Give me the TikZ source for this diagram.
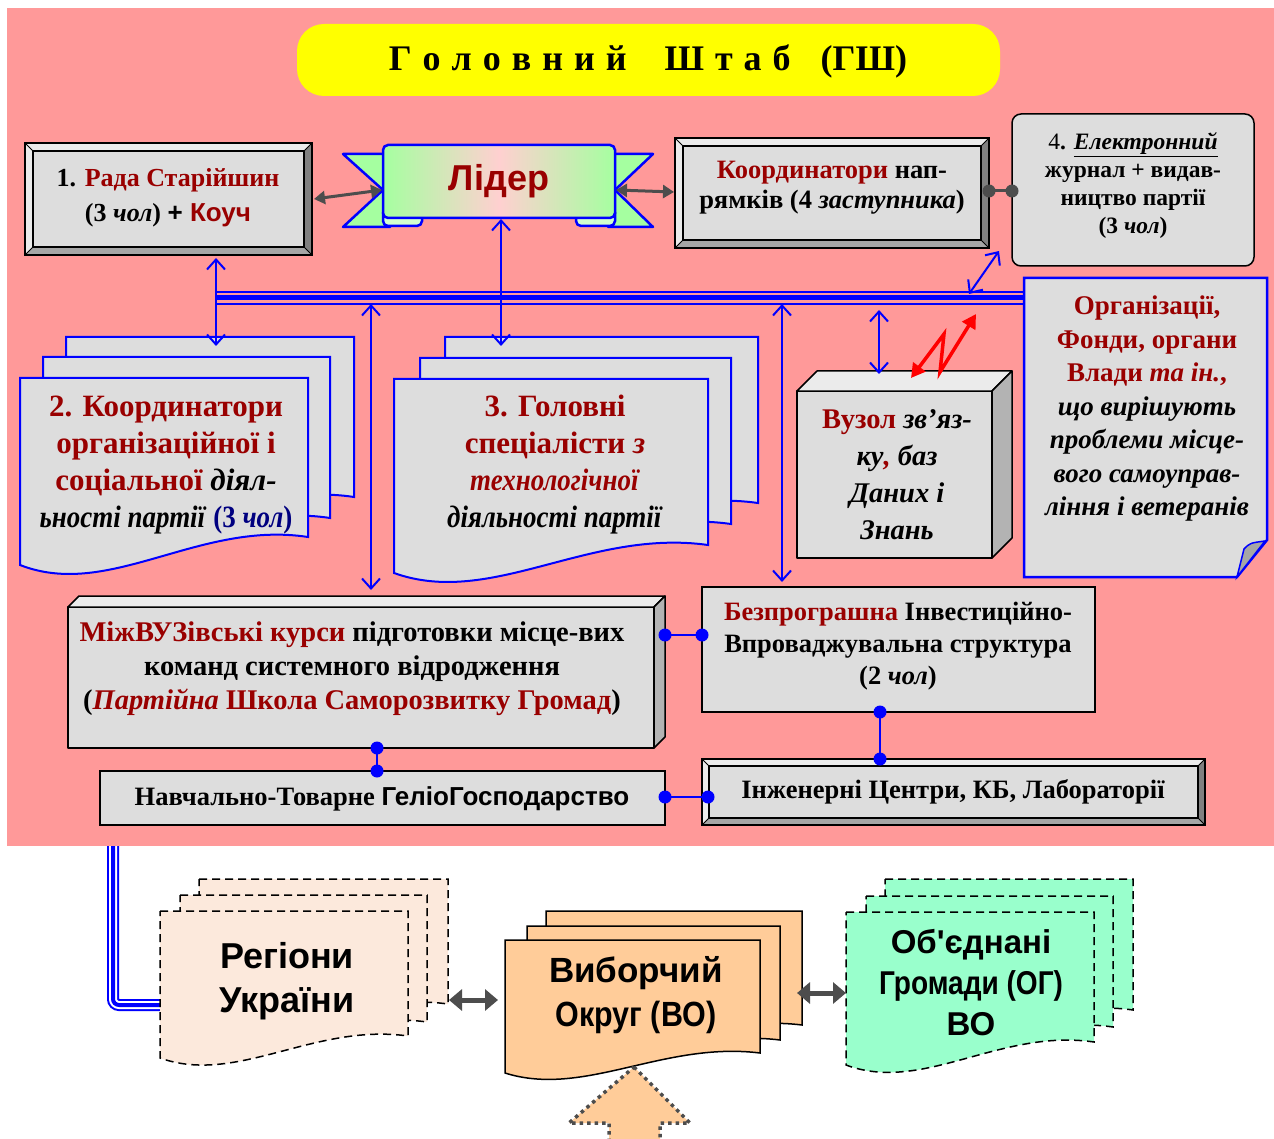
\documentclass[tikz,border=0pt]{standalone}
\usepackage{fontspec}
\setmainfont{Liberation Serif}
\newfontfamily\ars{Liberation Sans}
\usepackage{graphicx}
\usetikzlibrary{arrows.meta,calc}
\definecolor{bgpink}{HTML}{FF9999}
\definecolor{dred}{HTML}{990000}
\definecolor{face}{HTML}{DDDDDD}
\definecolor{lite}{HTML}{EBEBEB}
\definecolor{darkA}{HTML}{A6A6A6}
\definecolor{darkB}{HTML}{808080}
\definecolor{sidec}{HTML}{B3B3B3}
\definecolor{ttl}{HTML}{FFFF00}
\definecolor{rgreen}{HTML}{A5FFA0}
\definecolor{rpink}{HTML}{FFD0D0}
\definecolor{peach}{HTML}{FCE9DC}
\definecolor{orng}{HTML}{FFCC99}
\definecolor{mint}{HTML}{99FFCC}
\definecolor{agray}{HTML}{4D4D4D}
\definecolor{navyb}{HTML}{000080}
\newcommand\bevelbox[5]{%
 \fill[face] (#1,#2) rectangle (#3,#4);
 \fill[lite] (#1,#2) -- (#3,#2) -- ({#3-#5},{#2+#5}) -- ({#1+#5},{#2+#5}) -- ({#1+#5},{#4-#5}) -- (#1,#4) -- cycle;
 \fill[darkB] (#3,#2) -- (#3,#4) -- ({#3-#5},{#4-#5}) -- ({#3-#5},{#2+#5}) -- cycle;
 \fill[darkA] (#1,#4) -- (#3,#4) -- ({#3-#5},{#4-#5}) -- ({#1+#5},{#4-#5}) -- cycle;
 \draw[line width=1.3pt] (#1,#2) rectangle (#3,#4);
 \draw[line width=1.3pt] ({#1+#5},{#2+#5}) rectangle ({#3-#5},{#4-#5});
 \draw[line width=0.8pt] (#1,#2) -- ({#1+#5},{#2+#5}) (#3,#2) -- ({#3-#5},{#2+#5}) (#1,#4) -- ({#1+#5},{#4-#5}) (#3,#4) -- ({#3-#5},{#4-#5});
}
\newcommand\cubebox[5]{%
 \filldraw[fill=face, line width=1.5pt, line join=round] (#1,#2) rectangle (#3,#4);
 \filldraw[fill=lite, line width=1.5pt, line join=round] (#1,#2) -- ({#1+#5},{#2-#5}) -- ({#3+#5},{#2-#5}) -- (#3,#2) -- cycle;
 \filldraw[fill=sidec, line width=1.5pt, line join=round] (#3,#2) -- ({#3+#5},{#2-#5}) -- ({#3+#5},{#4-#5}) -- (#3,#4) -- cycle;
}
\newcommand\docshape[6]{%
 \filldraw[#1] (#2,#3) -- (#4,#3) -- (#4,{#5-#6}) .. controls ({#2+0.62*(#4-#2)},{#5-1.6*#6}) and ({#2+0.31*(#4-#2)},{#5+1.25*#6}) .. (#2,#5) -- cycle;
}
\newcommand\fs[2]{\fontsize{#1}{#2}\selectfont}
\newcommand\narrow[1]{\scalebox{0.87}[1]{#1}}
\tikzset{
 txt/.style={align=center, inner sep=0pt},
 barrow/.style={blue, line width=2pt, {Straight Barb[length=10pt,width=18pt]}-{Straight Barb[length=10pt,width=18pt]}},
 garrow/.style={agray, line width=3pt, {Triangle[length=11pt,width=13pt]}-{Triangle[length=11pt,width=13pt]}},
 bigarrow/.style={agray, line width=5pt, {Triangle[length=13pt,width=21pt]}-{Triangle[length=13pt,width=21pt]}},
 redarrow/.style={red, line width=3.5pt, line join=miter, {Triangle[length=14pt,width=15pt]}-{Triangle[length=14pt,width=15pt]}},
 bluedocs/.style={fill=face, draw=blue, line width=2pt},
 dashdoc/.style={draw=black, line width=1.5pt, dash pattern=on 8pt off 5pt},
 soliddoc/.style={fill=orng, draw=black, line width=1.5pt},
 bdot/.style={fill=blue},
 gdot/.style={fill=agray},
}
\begin{document}
\begin{tikzpicture}[x=1pt,y=-1pt]
\useasboundingbox (0,0) rectangle (1274,1139);
\fill[white] (0,0) rectangle (1274,1139);
\fill[bgpink] (7,8) rectangle (1274,846);
% title
\fill[ttl, rounded corners=27pt] (297,24) rectangle (1000,96);
\node[txt, font=\bfseries\fs{36}{40}] (title) at (648,61) {Г\hspace{11pt}о\hspace{11pt}л\hspace{11pt}о\hspace{11pt}в\hspace{11pt}н\hspace{11pt}и\hspace{11pt}й\hspace{38pt}Ш\hspace{11pt}т\hspace{11pt}а\hspace{11pt}б\hspace{30pt}(ГШ)};
% bus
\draw[blue, line width=14pt] (215,298) coordinate (busL) -- (1025,298) coordinate (busR);
\draw[bgpink, line width=10pt] (busL) -- (busR);
\draw[blue, line width=5pt] (busL) -- (busR);
% box 1
\bevelbox{25}{143}{312}{255}{8}
\node[txt, font=\bfseries\fs{26}{35}] (rada) at (168,198) {1. \textcolor{dred}{Рада Старійшин}\\(3 \textit{чол}) {\ars + \textcolor{dred}{Коуч}}};
% leader ribbon
\filldraw[fill=rgreen, draw=blue, line width=2.5pt, line join=round] (343,154) -- (390,154) -- (390,190) -- (383,190) -- cycle;
\filldraw[fill=rgreen, draw=blue, line width=2.5pt, line join=round] (343,227) -- (390,227) -- (390,190) -- (383,190) -- cycle;
\filldraw[fill=rgreen, draw=blue, line width=2.5pt, line join=round] (653,154) -- (608,154) -- (608,190) -- (615,190) -- cycle;
\filldraw[fill=rgreen, draw=blue, line width=2.5pt, line join=round] (653,227) -- (608,227) -- (608,190) -- (615,190) -- cycle;
\filldraw[fill=rgreen!50!white, draw=blue, line width=2.5pt, rounded corners=5pt] (383,208) rectangle (422,226);
\filldraw[fill=rgreen!50!white, draw=blue, line width=2.5pt, rounded corners=5pt] (576,208) rectangle (615,226);
\shade[left color=rgreen, right color=rgreen, middle color=rpink, rounded corners=5pt] (383,145) rectangle (615,218);
\draw[blue, line width=2.5pt, rounded corners=5pt] (383,145) rectangle (615,218);
\node[txt, text=dred, font=\ars\bfseries\fs{36}{40}] (lider) at (499,181) {Лідер};
% coordinators
\bevelbox{675}{138}{989}{248}{8}
\node[txt, font=\bfseries\fs{26.5}{30}] (coord) at (832,188) {\textcolor{dred}{Координатори} нап-\\рямків (4 \textit{заступника})};
% box 4
\filldraw[fill=face, line width=1.5pt, rounded corners=9pt] (1012,114) rectangle (1254,266);
\node[txt, font=\bfseries\fs{23.5}{28}] (ejour) at (1133,186) {{\mdseries 4}. \underline{\textit{Електронний}}\\журнал + видав-\\ництво партії\\(3 \textit{чол})};
% connectors top
\coordinate (g1a) at (314,199); \coordinate (g1b) at (382,190);
\coordinate (g2a) at (616,190); \coordinate (g2b) at (674,192);
\draw[garrow] (g1a) -- (g1b);
\draw[garrow] (g2a) -- (g2b);
\coordinate (cd1) at (989,191); \coordinate (cd2) at (1012,191);
\draw[agray, line width=3pt] (cd1) -- (cd2);
\fill[gdot] (cd1) circle (6.5pt) (cd2) circle (6.5pt);
% box 2 docs
\docshape{bluedocs}{66}{337}{354}{525}{28}
\docshape{bluedocs}{43}{357}{330}{546}{28}
\docshape{bluedocs}{20}{378}{308}{565}{28}
\node[txt, font=\bfseries\fs{31}{37}] (koord2) at (166,465) {\textcolor{dred}{2. Координатори}\\\textcolor{dred}{організаційної і}\\\textcolor{dred}{соціальної} \textit{діял-}\\\narrow{\textit{ьності партії} \textcolor{navyb}{(3 \textit{чол})}}};
% box 3 docs
\docshape{bluedocs}{445}{337}{758}{531}{28}
\docshape{bluedocs}{420}{358}{731}{552}{28}
\docshape{bluedocs}{394}{379}{708}{573}{28}
\node[txt, font=\bfseries\fs{31}{37}] (spec3) at (555,465) {\textcolor{dred}{3. Головні}\\\textcolor{dred}{спеціалісти \textit{з}}\\\narrow{\textcolor{dred}{\textit{технологічної}}}\\\narrow{\textit{діяльності партії}}};
% vuzol
\cubebox{797}{391}{992}{558}{20}
\node[txt, font=\bfseries\fs{28.5}{37}] (vuzol) at (897,475) {\textcolor{dred}{Вузол} \textit{зв'яз-}\\\textit{ку\textcolor{dred}{,} баз}\\\textit{Даних і}\\\textit{Знань}};
% org
\filldraw[fill=face, draw=blue, line width=2.5pt] (1024,278) -- (1267,278) -- (1267,540) -- (1237,577) -- (1024,577) -- cycle;
\filldraw[fill=darkA, draw=blue, line width=1.5pt] (1237,577) -- (1244,549) .. controls (1250,543) .. (1265,541) -- cycle;
\node[txt, font=\bfseries\fs{27}{33.5}] (orgs) at (1147,409) {\textcolor{dred}{Організації,}\\\textcolor{dred}{Фонди, органи}\\\textcolor{dred}{Влади \textit{та ін.},}\\\textit{що вирішують}\\\textit{проблеми місце-}\\\textit{вого самоуправ-}\\\textit{ління і ветеранів}};
% mizhvuz
\cubebox{68}{607}{654}{748}{11}
\node[txt, font=\bfseries\fs{28.5}{34}] (mvuz) at (352,669) {\textcolor{dred}{МіжВУЗівські курси} підготовки місце-вих\\команд системного відродження\\(\textcolor{dred}{\textit{Партійна} Школа Саморозвитку Громад})};
% bezprogr
\filldraw[fill=face, line width=1.5pt] (702,587) rectangle (1095,712);
\node[txt, font=\bfseries\fs{26.5}{32}] (bezp) at (898,646) {\textcolor{dred}{Безпрограшна} Інвестиційно-\\Впроваджувальна структура\\(2 \textit{чол})};
% navch
\filldraw[fill=face, line width=1.5pt] (100,771) rectangle (665,825);
\node[txt, font=\bfseries\fs{26.5}{28}] (navch) at (382,799) {Навчально-Товарне {\ars\fs{26}{28}ГеліоГосподарство}};
% inzh
\bevelbox{702}{759}{1205}{825}{7}
\node[txt, font=\bfseries\fs{26.5}{28}] (inzh) at (953,792) {Інженерні Центри, КБ, Лабораторії};
% blue arrows
\coordinate (a1) at (216,258); \coordinate (a2) at (216,346);
\draw[barrow] (a1) -- (a2);
\coordinate (l1) at (501,219); \coordinate (l2) at (501,346);
\draw[barrow] (l1) -- (l2);
\coordinate (b1) at (371,304); \coordinate (b2) at (371,590);
\draw[barrow] (b1) -- (b2);
\coordinate (b3) at (782,304); \coordinate (b4) at (782,582);
\draw[barrow] (b3) -- (b4);
\coordinate (b5) at (879,310); \coordinate (b6) at (879,374);
\draw[barrow] (b5) -- (b6);
\coordinate (b7) at (969,294); \coordinate (b8) at (999,251);
\draw[barrow] (b7) -- (b8);
\coordinate (r1) at (911,378); \coordinate (r2) at (976,314);
\draw[redarrow] (r1) -- (944,334) -- (940,372) -- (r2);
% blue dot connectors
\coordinate (d1) at (665,635); \coordinate (d2) at (702,635);
\coordinate (d3) at (880,712); \coordinate (d4) at (880,759);
\coordinate (d5) at (377,748); \coordinate (d6) at (377,771);
\coordinate (d7) at (665,797); \coordinate (d8) at (708,797);
\draw[blue, line width=2.5pt] (d1) -- (d2) (d3) -- (d4) (d5) -- (d6) (d7) -- (d8);
\fill[bdot] (d1) circle (6.5pt) (d2) circle (6.5pt) (d3) circle (6.5pt) (d4) circle (6.5pt) (d5) circle (6.5pt) (d6) circle (6.5pt) (d7) circle (6.5pt) (d8) circle (6.5pt);
% bottom
\coordinate (bl1) at (113,846); \coordinate (bl2) at (160,1005);
\draw[blue, line width=12pt, rounded corners=6pt] (bl1) |- (bl2);
\draw[white, line width=8pt, rounded corners=6pt] (bl1) |- (bl2);
\draw[blue, line width=4pt, rounded corners=6pt] (bl1) |- (bl2);
\docshape{dashdoc, fill=peach}{199}{879}{448}{1026}{22}
\docshape{dashdoc, fill=peach}{180}{895}{427}{1044}{22}
\docshape{dashdoc, fill=peach}{160}{911}{408}{1058}{22}
\node[txt, font=\ars\bfseries\fs{36}{44}] (regions) at (287,981) {Регіони\\України};
\docshape{soliddoc}{546}{911}{802}{1045}{20}
\docshape{soliddoc}{527}{926}{780}{1060}{20}
\docshape{soliddoc}{505}{940}{760}{1073}{20}
\node[txt, font=\ars\bfseries\fs{35}{44}] (vybor) at (636,995) {Виборчий\\\scalebox{0.87}[1]{Округ (ВО)}};
\docshape{dashdoc, fill=mint}{885}{879}{1133}{1033}{23}
\docshape{dashdoc, fill=mint}{866}{896}{1113}{1050}{23}
\docshape{dashdoc, fill=mint}{846}{912}{1094}{1065}{23}
\node[txt, font=\ars\bfseries\fs{33}{41}] (ogr) at (971,983) {Об'єднані\\\scalebox{0.85}[1]{Громади (ОГ)}\\ВО};
\coordinate (ga1) at (449,1000); \coordinate (ga2) at (498,1000);
\draw[bigarrow] (ga1) -- (ga2);
\coordinate (gb1) at (797,993); \coordinate (gb2) at (846,993);
\draw[bigarrow] (gb1) -- (gb2);
\coordinate (up) at (634,1067);
\filldraw[fill=orng, draw=agray, line width=3.5pt, dash pattern=on 3.5pt off 4pt] (up) -- (690,1123) -- (660,1123) -- (660,1150) -- (609,1150) -- (609,1123) -- (569,1123) -- cycle;
\end{tikzpicture}
\end{document}
